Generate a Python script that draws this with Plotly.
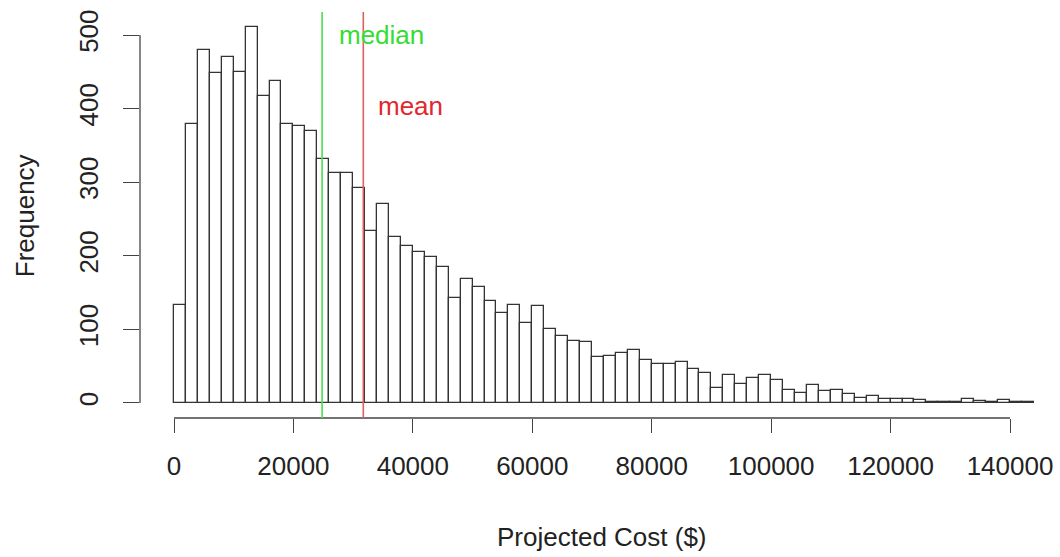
import plotly.graph_objects as go

# Histogram of projected costs: 2000-wide bins from 0 to 144000
bin_width = 2000
bin_starts = list(range(0, 144000, bin_width))
counts = [
    133, 379, 480, 448, 470, 450, 511, 417, 437, 379,
    376, 370, 331, 312, 313, 292, 234, 270, 225, 213,
    205, 199, 185, 143, 168, 158, 138, 122, 133, 109,
    132, 100, 91, 84, 83, 62, 64, 68, 72, 58,
    53, 53, 56, 46, 41, 21, 38, 26, 34, 38,
    31, 17, 14, 25, 16, 17, 12, 7, 10, 6,
    6, 6, 4, 2, 2, 2, 5, 3, 2, 4,
    2, 1,
]
median_cost = 24800
mean_cost = 31700

x_ticks = list(range(0, 140001, 20000))
y_ticks = list(range(0, 501, 100))

FONT = "Liberation Sans, Arial, Helvetica, sans-serif"
AXIS_COL = "#444444"

bin_centers = [s + bin_width / 2 for s in bin_starts]

fig = go.Figure()
fig.add_trace(go.Bar(
    x=bin_centers,
    y=counts,
    width=bin_width,
    marker=dict(color="white", line=dict(color="#333333", width=1.3)),
    hoverinfo="x+y",
))

# axis lines only span the tick range
fig.add_shape(type="line", xref="x", yref="y domain",
              x0=x_ticks[0], x1=x_ticks[-1], y0=0, y1=0,
              line=dict(color=AXIS_COL, width=1.3))
fig.add_shape(type="line", xref="x domain", yref="y",
              x0=0, x1=0, y0=y_ticks[0], y1=y_ticks[-1],
              line=dict(color=AXIS_COL, width=1.3))

# median and mean markers
fig.add_shape(type="line", xref="x", yref="y domain",
              x0=median_cost, x1=median_cost, y0=0, y1=1,
              line=dict(color="#4cdc4c", width=1.6))
fig.add_shape(type="line", xref="x", yref="y domain",
              x0=mean_cost, x1=mean_cost, y0=0, y1=1,
              line=dict(color="#e06060", width=1.6))

fig.add_annotation(x=median_cost + 2500, y=500, xref="x", yref="y",
                   text="median", showarrow=False, xanchor="left",
                   yanchor="middle",
                   font=dict(family=FONT, size=26, color="#33dd33"))
fig.add_annotation(x=mean_cost + 2100, y=404, xref="x", yref="y",
                   text="mean", showarrow=False, xanchor="left",
                   yanchor="middle",
                   font=dict(family=FONT, size=26, color="#e3262e"))

# axis titles
fig.add_annotation(x=(602 - 140) / 920, y=-0.293, xref="paper", yref="paper",
                   text="Projected Cost ($)", showarrow=False,
                   xanchor="center", yanchor="middle",
                   font=dict(family=FONT, size=26, color="#222222"))
fig.add_annotation(x=-0.125, y=0.497, xref="paper", yref="paper",
                   text="Frequency", showarrow=False, textangle=-90,
                   xanchor="center", yanchor="middle",
                   font=dict(family=FONT, size=26, color="#222222"))

fig.update_layout(
    width=1060, height=557,
    margin=dict(l=140, r=0, t=12, b=139),
    paper_bgcolor="white", plot_bgcolor="white",
    showlegend=False, bargap=0,
    font=dict(family=FONT, size=26, color="#222222"),
)
fig.update_xaxes(
    range=[-5694, 148373],
    tickvals=x_ticks, ticktext=[str(v) for v in x_ticks],
    ticks="outside", ticklen=14, tickwidth=1.3, tickcolor=AXIS_COL,
    ticklabelstandoff=11,
    showline=False, showgrid=False, zeroline=False,
    tickfont=dict(family=FONT, size=26, color="#222222"),
)
fig.update_yaxes(
    range=[-20.4, 531.3],
    tickvals=y_ticks, ticktext=[str(v) for v in y_ticks],
    tickangle=-90,
    ticks="outside", ticklen=16, tickwidth=1.3, tickcolor=AXIS_COL,
    ticklabelstandoff=15,
    showline=False, showgrid=False, zeroline=False,
    tickfont=dict(family=FONT, size=26, color="#222222"),
)

fig.write_html("out.html")
